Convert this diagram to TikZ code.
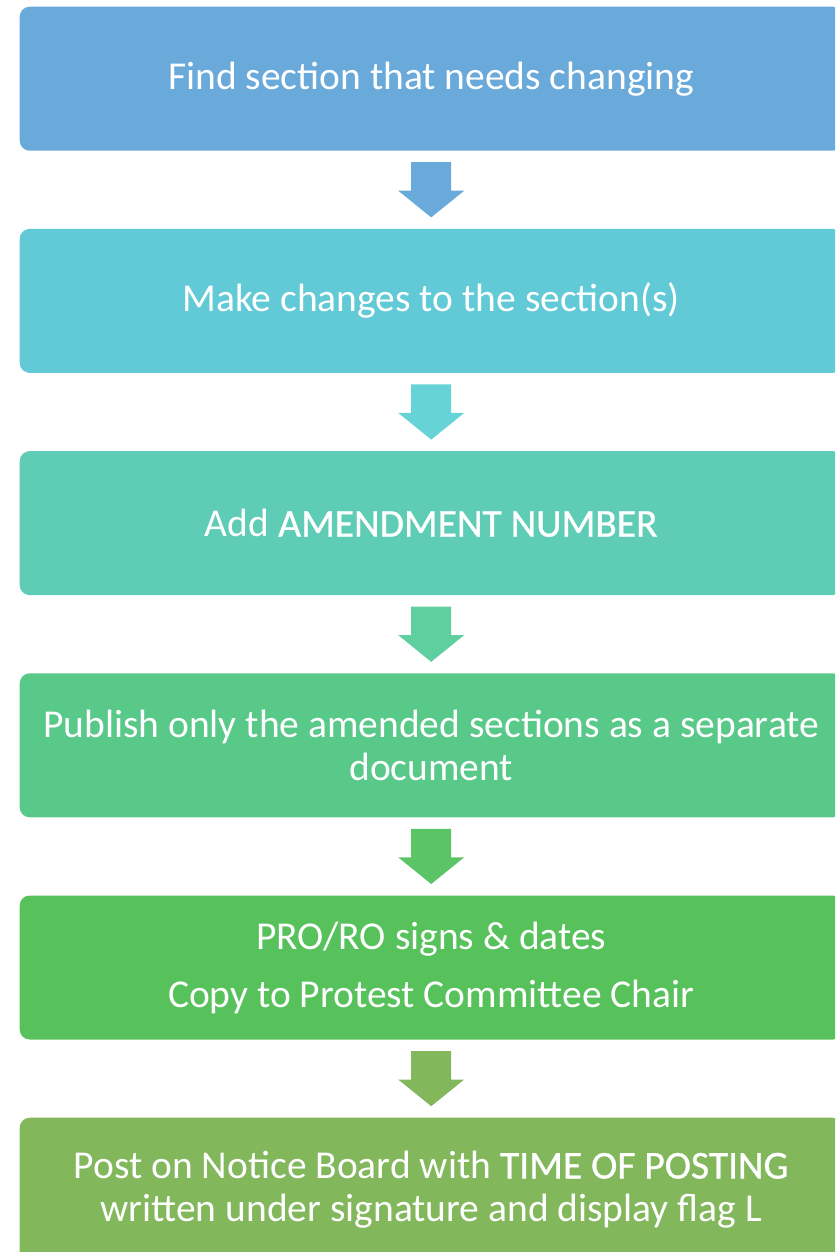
\documentclass[tikz,border=0pt]{standalone}
\usepackage{fontspec}
\setmainfont{Carlito}
\newfontfamily\strongfont{Carlito}[FakeBold=0.8]
\usetikzlibrary{positioning,calc}

\definecolor{stepone}{HTML}{6AAADB}
\definecolor{steptwo}{HTML}{62CAD7}
\definecolor{stepthree}{HTML}{5FCDB5}
\definecolor{stepfour}{HTML}{59C98A}
\definecolor{stepfive}{HTML}{57C15C}
\definecolor{stepsix}{HTML}{82B75C}
\definecolor{arrowone}{HTML}{6AAADB}
\definecolor{arrowtwo}{HTML}{66D4D7}
\definecolor{arrowthree}{HTML}{5FCFA0}
\definecolor{arrowfour}{HTML}{5AC466}
\definecolor{arrowfive}{HTML}{82B75C}

\begin{document}
\begin{tikzpicture}[x=1pt,y=-1pt,
  stepbox/.style={rounded corners=10pt,minimum width=823pt,minimum height=144pt,
    inner sep=0pt,align=center,text=white,font=\fontsize{39.5}{43}\selectfont},
  node distance=77.8pt]
  \useasboundingbox (0,0) rectangle (835,1252);
  \clip (0,0) rectangle (835,1252);
  % the six steps
  \node[stepbox,fill=stepone,anchor=north west] (find) at (19.5,6.5) {Find section that needs changing};
  \node[stepbox,fill=steptwo,below=of find] (make) {Make changes to the section(s)};
  \node[stepbox,fill=stepthree,below=of make] (amend) {Add {\strongfont AMENDMENT NUMBER}};
  \node[stepbox,fill=stepfour,below=of amend] (publish) {Publish only the amended sections as a separate\\document};
  \node[stepbox,fill=stepfive,below=of publish] (sign) {PRO/RO signs \& dates\\[15pt]Copy to Protest Committee Chair};
  \node[stepbox,fill=stepsix,below=of sign] (post) {Post on Notice Board with {\strongfont TIME OF POSTING}\\written under signature and display flag L};
  % block arrows
  \foreach \a/\b/\c in {find/make/arrowone,make/amend/arrowtwo,amend/publish/arrowthree,
      publish/sign/arrowfour,sign/post/arrowfive}
    \fill[\c] ($(\a.south)+(-20,11.3)$) -- ($(\a.south)+(20,11.3)$) -- ($(\b.north)+(20,-38)$)
      -- ($(\b.north)+(33,-38)$) -- ($(\b.north)+(0,-11.3)$) -- ($(\b.north)+(-33,-38)$)
      -- ($(\b.north)+(-20,-38)$) -- cycle;
\end{tikzpicture}
\end{document}
